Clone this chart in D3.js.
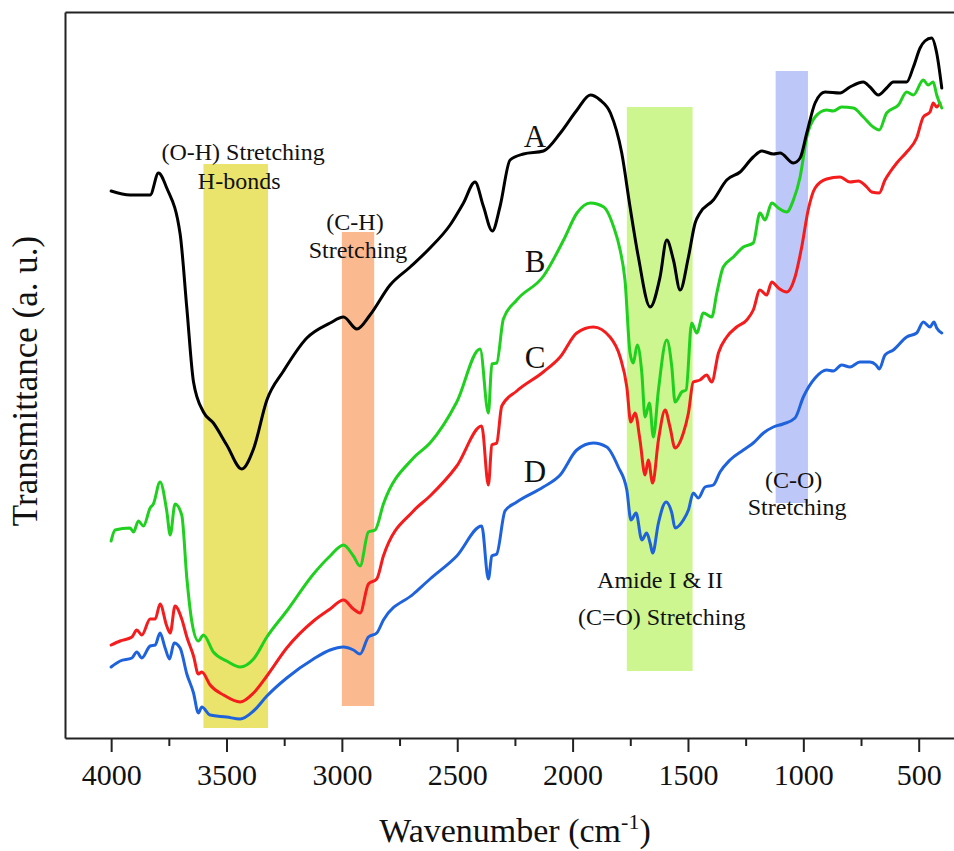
<!DOCTYPE html>
<html>
<head>
<meta charset="utf-8">
<title>FTIR spectra</title>
<script src="https://d3js.org/d3.v7.min.js"></script>
<style>
    body {
        margin: 0;
        background: #fff;
    }
    svg {
        display: block;
        font-family: "Liberation Serif", "DejaVu Serif", serif;
    }
    .frame path, .frame line {
        stroke: #222;
        stroke-width: 2px;
    }
    .frame text {
        font-family: "Liberation Serif", serif;
        font-size: 30px;
        fill: #111;
    }
    .note {
        font-size: 24px;
        fill: #111;
        text-anchor: middle;
    }
    .series-label {
        font-size: 31px;
        fill: #111;
        text-anchor: middle;
    }
    .axis-title {
        font-size: 34px;
        fill: #111;
        text-anchor: middle;
    }
</style>
</head>
<body>
<svg id="chart" width="954" height="851"></svg>
<script>
// [wavenumber (cm-1), transmittance (a. u.)]
var spectrumA = [[4000,54.7],[3918,54.3],[3831,54.3],[3795,56.5],[3759,55.0],[3701,50.4],[3672,43.0],[3643,35.6],[3600,32.6],[3557,31.5],[3499,29.3],[3434,26.9],[3383,28.9],[3325,33.8],[3253,36.7],[3152,40.0],[3051,41.5],[2993,42.1],[2935,40.9],[2878,42.3],[2791,45.3],[2704,47.1],[2618,49.0],[2531,51.3],[2473,53.5],[2423,55.6],[2387,53.2],[2348,50.7],[2314,53.2],[2271,57.8],[2213,58.4],[2126,58.7],[2053,60.5],[1981,62.8],[1923,64.3],[1881,63.8],[1836,62.5],[1787,58.5],[1751,53.1],[1715,48.1],[1664,43.1],[1621,46.1],[1592,49.8],[1563,47.8],[1534,44.8],[1498,48.1],[1469,51.5],[1448,52.5],[1390,53.8],[1332,55.8],[1274,56.6],[1217,58.1],[1180,58.7],[1130,58.4],[1101,58.5],[1043,57.5],[1014,58.0],[985,60.5],[949,63.5],[906,64.6],[841,64.5],[798,65.1],[740,65.6],[711,65.1],[675,64.3],[639,65.0],[610,65.6],[552,65.6],[523,67.1],[494,69.0],[473,69.7],[444,70.0],[422,68.5],[400,65.0]];

var spectrumB = [[4000,19.7],[3983,20.8],[3918,21.0],[3903,20.6],[3882,21.7],[3860,21.2],[3831,23.0],[3817,23.4],[3788,25.6],[3759,22.7],[3744,20.3],[3723,23.4],[3694,22.3],[3672,16.0],[3650,11.6],[3622,9.7],[3600,10.3],[3557,8.6],[3499,7.7],[3441,7.1],[3383,7.9],[3325,10.1],[3239,12.7],[3123,16.4],[3051,18.2],[2993,19.3],[2950,18.2],[2921,17.2],[2885,20.6],[2856,20.8],[2820,23.4],[2690,28.0],[2618,29.5],[2502,33.6],[2401,38.9],[2365,32.5],[2350,37.4],[2329,37.5],[2300,41.9],[2242,43.8],[2126,46.2],[2039,49.8],[1981,52.5],[1923,53.5],[1865,53.1],[1822,51.1],[1794,48.8],[1773,45.8],[1751,38.5],[1737,37.5],[1720,39.3],[1700,36.5],[1686,32.1],[1667,33.5],[1650,30.1],[1628,34.8],[1592,39.8],[1570,37.1],[1556,33.6],[1527,34.6],[1508,34.8],[1484,41.5],[1462,40.5],[1433,42.5],[1397,42.1],[1375,44.5],[1347,47.1],[1303,48.1],[1260,49.1],[1217,49.5],[1188,52.5],[1166,51.8],[1137,53.5],[1108,53.0],[1072,52.6],[1043,53.8],[1014,56.1],[985,60.1],[949,62.1],[899,62.8],[870,62.7],[834,63.1],[783,63.0],[740,62.1],[697,61.1],[671,60.8],[639,62.5],[588,63.3],[552,64.6],[523,64.3],[480,65.8],[459,65.3],[437,65.6],[422,64.3],[400,63.0]];

var spectrumC = [[4000,9.3],[3961,9.7],[3910,10.1],[3889,10.8],[3867,10.3],[3831,11.9],[3809,11.9],[3788,13.4],[3759,11.2],[3744,10.5],[3723,13.2],[3694,11.9],[3672,10.1],[3643,8.2],[3622,6.4],[3607,6.6],[3571,5.3],[3513,4.3],[3441,3.6],[3383,4.5],[3325,6.2],[3239,9.0],[3123,11.7],[3051,12.9],[2993,13.8],[2950,12.9],[2921,12.5],[2885,15.4],[2849,15.9],[2820,18.2],[2690,22.7],[2618,24.2],[2502,27.2],[2394,31.2],[2365,25.3],[2350,29.3],[2329,29.5],[2307,33.2],[2242,34.7],[2127,36.6],[2054,38.1],[1982,40.5],[1910,41.1],[1838,40.1],[1794,38.1],[1765,35.1],[1748,31.6],[1729,32.5],[1708,29.8],[1686,26.3],[1672,27.8],[1653,25.5],[1628,29.8],[1599,32.8],[1578,31.1],[1556,29.0],[1520,30.5],[1498,32.5],[1477,35.6],[1448,35.8],[1419,36.3],[1397,35.6],[1368,38.5],[1332,40.1],[1289,41.1],[1245,41.8],[1217,42.8],[1188,44.8],[1159,44.3],[1137,45.6],[1108,45.0],[1072,44.6],[1036,46.1],[1007,49.1],[979,52.8],[949,55.0],[899,55.9],[841,56.1],[798,55.6],[762,55.7],[725,55.1],[704,54.6],[671,54.5],[646,55.8],[624,56.6],[595,57.5],[552,58.6],[509,60.0],[480,62.1],[451,62.6],[437,63.5],[422,63.1],[408,63.5]];

var spectrumD = [[4000,7.1],[3961,7.7],[3910,8.0],[3889,8.6],[3867,8.0],[3831,9.2],[3809,9.3],[3788,10.5],[3766,9.0],[3747,7.9],[3727,9.5],[3701,9.0],[3672,6.4],[3643,4.5],[3622,2.5],[3607,3.1],[3571,2.3],[3499,2.1],[3441,1.9],[3383,2.7],[3325,4.2],[3239,6.0],[3123,7.9],[3051,8.8],[2993,9.1],[2950,8.8],[2921,8.4],[2885,10.1],[2849,10.5],[2820,11.8],[2690,14.4],[2618,15.9],[2502,18.2],[2394,21.2],[2365,15.9],[2350,18.2],[2329,18.4],[2293,22.7],[2242,23.6],[2127,25.1],[2054,26.3],[1982,28.8],[1910,29.5],[1852,29.1],[1802,27.1],[1765,24.8],[1747,21.8],[1725,22.5],[1700,19.8],[1679,20.5],[1664,19.5],[1653,18.5],[1628,21.5],[1595,23.6],[1570,22.5],[1556,21.0],[1520,21.8],[1498,22.8],[1477,24.5],[1455,24.0],[1426,25.1],[1390,25.3],[1361,26.6],[1318,27.8],[1260,28.8],[1217,29.5],[1173,30.5],[1130,31.1],[1088,31.4],[1036,32.0],[1000,34.1],[949,36.0],[899,36.8],[870,36.7],[834,37.3],[798,37.1],[755,37.6],[711,37.6],[685,37.3],[671,36.9],[646,38.3],[610,38.8],[552,40.1],[509,40.5],[480,41.6],[451,41.1],[434,41.6],[422,41.0],[400,40.5]];

var seriesNames = ["A", "B", "C", "D"];

// highlighted absorption regions: wavenumber range and vertical extent (a. u.)
var bandNames = ["OH", "CH", "amide", "CO"];
var bandFrom = [3600, 3000, 1765, 1120];
var bandTo = [3320, 2860, 1480, 980];
var bandTop = [57.4, 50.6, 63.1, 66.7];
var bandBottom = [1.0, 3.2, 6.7, 23.5];

var majorTicks = [4000, 3500, 3000, 2500, 2000, 1500, 1000, 500];
var minorTicks = [3750, 3250, 2750, 2250, 1750, 1250, 750];

var noteTexts = ["(O-H) Stretching", "H-bonds", "(C-H)", "Stretching", "Amide I & II", "(C=O) Stretching", "(C-O)", "Stretching"];

document.addEventListener('DOMContentLoaded', function () {
    var svg = d3.select("#chart");

    var x = d3.scaleLinear().domain([4200, 347]).range([65, 954]);
    var y = d3.scaleLinear().domain([0, 72.6]).range([738, 12]);

    var lineColors = { A: "#000000", B: "#1fd01f", C: "#f41c1c", D: "#1f63dc" };
    var bandColors = { OH: "#ebe46c", CH: "#fab98f", amide: "#cdf691", CO: "#bdc7f8" };

    // shaded bands
    svg.append("g")
        .selectAll("rect")
        .data(bandNames)
        .enter()
        .append("rect")
        .attr("x", (d, i) => x(bandFrom[i]))
        .attr("width", (d, i) => x(bandTo[i]) - x(bandFrom[i]))
        .attr("y", (d, i) => y(bandTop[i]))
        .attr("height", (d, i) => y(bandBottom[i]) - y(bandTop[i]))
        .attr("fill", d => bandColors[d]);

    // frame: bottom axis with ticks, plain left and top lines
    var bottom = svg.append("g")
        .attr("class", "frame")
        .attr("transform", "translate(0," + y(0) + ")")
        .call(d3.axisBottom(x).tickValues(majorTicks).tickSize(14).tickSizeOuter(0).tickFormat(d3.format("d")))
        .attr("font-family", "Liberation Serif")
        .attr("font-size", 30);
    bottom.selectAll("text").attr("y", 47).attr("dy", 0);

    svg.append("g")
        .attr("class", "frame")
        .attr("transform", "translate(0," + y(0) + ")")
        .call(d3.axisBottom(x).tickValues(minorTicks).tickSize(8).tickSizeOuter(0).tickFormat(""))
        .select(".domain").remove();

    svg.append("g")
        .attr("class", "frame")
        .attr("transform", "translate(" + x(4200) + ",0)")
        .call(d3.axisLeft(y).tickValues([]).tickSizeOuter(0));

    svg.append("g")
        .attr("class", "frame")
        .attr("transform", "translate(0," + y(72.6) + ")")
        .call(d3.axisTop(x).tickValues([]).tickSizeOuter(0));

    // spectra
    var spectra = { A: spectrumA, B: spectrumB, C: spectrumC, D: spectrumD };
    var line = d3.line()
        .x(d => x(d[0]))
        .y(d => y(d[1]))
        .curve(d3.curveMonotoneX);

    svg.append("g")
        .selectAll("path")
        .data(seriesNames.slice().reverse())
        .enter()
        .append("path")
        .attr("d", d => line(spectra[d]))
        .attr("fill", "none")
        .attr("stroke", d => lineColors[d])
        .attr("stroke-width", 3)
        .attr("stroke-linejoin", "round")
        .attr("stroke-linecap", "round");

    // series letters
    var letterPos = [[2163, 59.1], [2163, 46.6], [2163, 37.0], [2163, 25.6]];
    svg.append("g")
        .selectAll("text")
        .data(seriesNames)
        .enter()
        .append("text")
        .attr("class", "series-label")
        .attr("x", (d, i) => x(letterPos[i][0]))
        .attr("y", (d, i) => y(letterPos[i][1]))
        .text(d => d);

    // band annotations
    var notePos = [[3428, 57.8], [3445, 54.9], [2943, 50.8], [2930, 48.0],
                   [1621, 15.0], [1614, 11.3], [1042, 25.0], [1027, 22.3]];
    svg.append("g")
        .selectAll("text")
        .data(noteTexts)
        .enter()
        .append("text")
        .attr("class", "note")
        .attr("x", (d, i) => x(notePos[i][0]))
        .attr("y", (d, i) => y(notePos[i][1]))
        .text(d => d);

    // axis titles
    var xt = svg.append("text")
        .attr("class", "axis-title")
        .attr("x", 515)
        .attr("y", 842);
    xt.append("tspan").text("Wavenumber (cm");
    xt.append("tspan").attr("dy", -13).attr("font-size", 22).text("-1");
    xt.append("tspan").attr("dy", 13).text(")");

    svg.append("text")
        .attr("class", "axis-title")
        .attr("font-size", 35)
        .style("font-size", "35px")
        .attr("transform", "translate(37,381) rotate(-90)")
        .text("Transmittance (a. u.)");
});
</script>
</body>
</html>
